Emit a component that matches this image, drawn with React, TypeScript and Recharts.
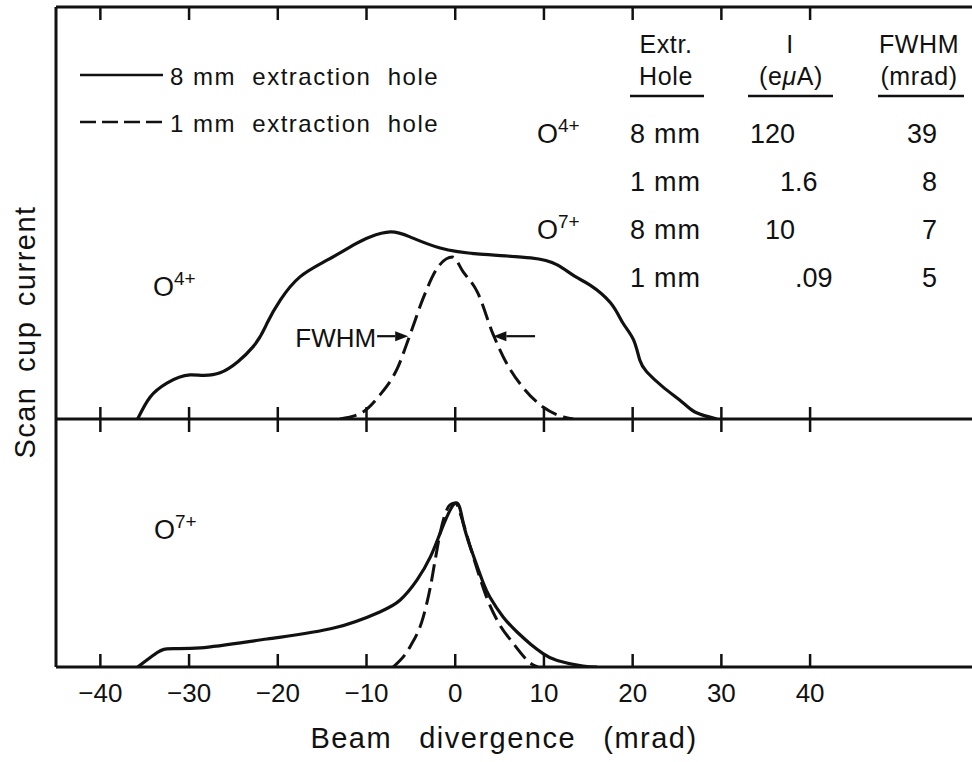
import React from 'react';
import { LineChart, Line, XAxis, YAxis, ReferenceLine } from 'recharts';

const X_DOMAIN: [number, number] = [-45, 58.25];
const X_TICKS = [-40, -30, -20, -10, 0, 10, 20, 30, 40];

// upper panel, O4+ (relative scan cup current)
const O4_8MM: [number, number][] = [
  [-35.8, 0], [-34.4, 5.3], [-32.5, 8.7], [-29.9, 10.7], [-26.5, 11.2],
  [-22.8, 17.5], [-21.2, 23.3], [-19.7, 28.9], [-17.5, 34.5], [-14.4, 38.6], [-11.5, 42.2],
  [-9.6, 44.2], [-7.3, 45.4], [-5.1, 44.2], [-1.7, 41.5], [2.8, 40.0], [8.5, 39.1],
  [11.5, 37.4], [13.5, 34.6], [15.2, 32.5], [17.5, 28.2], [18.9, 23.3], [20.1, 19.2],
  [20.8, 14.3], [21.6, 11.4], [23.4, 7.8], [25.7, 3.9], [27.2, 1.5], [29.5, 0],
];
const O4_1MM: [number, number][] = [
  [-13, 0], [-10.4, 1.7], [-8.5, 5.8], [-6.5, 12.4], [-5.1, 20.4], [-3.6, 29.4],
  [-2, 36.7], [-0.3, 39.3], [0.9, 35.7], [2.5, 30.8], [4.3, 20.4], [5.9, 13.1],
  [7.7, 7.5], [9.9, 2.9], [12.2, 0.5], [13.3, 0],
];

// lower panel, O7+
const O7_8MM: [number, number][] = [
  [-35.8, 0], [-34, 4.8], [-32.5, 7.3], [-28.7, 7.7], [-21.2, 11.3], [-13.7, 15.7],
  [-8.5, 22.2], [-6.2, 27.0], [-4.3, 35.1], [-2.8, 44.4], [-1.7, 54.0],
  [0, 66.1], [0.9, 58.1], [1.7, 48.4], [2.5, 40.3], [3.2, 33.5], [3.9, 28.2],
  [5.4, 20.2], [7.0, 14.0], [8.5, 9.2], [9.9, 5.4], [11.5, 2.6], [14.4, 0.4], [16, 0],
];
const O7_1MM: [number, number][] = [
  [-7, 0], [-5.1, 8.1], [-3.6, 20.2], [-2.8, 32.3], [-2.2, 44.4], [-1.7, 54.0],
  [-0.6, 65.3], [0, 66.1], [0.9, 58.1], [1.7, 48.4], [2.6, 38], [3.6, 27.5],
  [4.7, 19], [6.5, 9.7], [8.8, 0.8], [9.3, 0],
];

// FWHM arrows on the 1 mm O4+ curve
const FWHM_LEVEL = 20.1;
const FWHM_LEFT: [number, number] = [-8.8, -5.3];
const FWHM_RIGHT: [number, number] = [9.0, 4.3];

const LEGEND = ['8 mm  extraction  hole', '1 mm  extraction  hole'];

const TABLE_ION = ['4+', '', '7+', ''];
const TABLE_HOLE = ['8 mm', '1 mm', '8 mm', '1 mm'];
const TABLE_CURRENT = ['120', '1.6', '10', '.09'];
const TABLE_FWHM = ['39', '8', '7', '5'];

const INK = '#111';
const FONT = '"Liberation Sans", Arial, Helvetica, sans-serif';
const DASH = '17 7';

const toPts = (arr: [number, number][]) => arr.map(([x, y]) => ({ x, y }));

const fmtTick = (v: number) => (v < 0 ? `\u2212${-v}` : `${v}`);

const TopTick = (props: any) => (
  <line x1={props.x} x2={props.x} y1={props.y} y2={props.y + 13} stroke={INK} strokeWidth={2.5} />
);

const MidTick = (props: any) => (
  <line x1={props.x} x2={props.x} y1={props.y - 12} y2={props.y + 13} stroke={INK} strokeWidth={2.5} />
);

const BottomTick = (props: any) => (
  <g>
    <line x1={props.x} x2={props.x} y1={props.y} y2={props.y - 13} stroke={INK} strokeWidth={2.5} />
    <text x={props.x} y={props.y + 35} textAnchor="middle" fontSize={26} fontFamily={FONT} fill={INK}>
      {fmtTick(props.payload.value)}
    </text>
  </g>
);

const arrow = (label?: string) => (props: any) => {
  const { x1, y1, x2, y2 } = props;
  const dir = Math.sign(x2 - x1);
  const head = 13;
  return (
    <g>
      <line x1={x1} y1={y1} x2={x2 - dir * head} y2={y2} stroke={INK} strokeWidth={2.2} />
      <polygon
        points={`${x2},${y2} ${x2 - dir * head},${y2 - 5} ${x2 - dir * head},${y2 + 5}`}
        fill={INK}
      />
      {label && (
        <text x={x1 - 1} y={y1 + 11} textAnchor="end" fontSize={26} fontFamily={FONT} fill={INK}>
          {label}
        </text>
      )}
    </g>
  );
};

const axisStroke = { stroke: INK, strokeWidth: 3 };

export default function App() {
  const o48 = toPts(O4_8MM);
  const o41 = toPts(O4_1MM);
  const o78 = toPts(O7_8MM);
  const o71 = toPts(O7_1MM);

  // decimal alignment of the current column
  const curX = 795;

  return (
    <div style={{ position: 'absolute', left: 0, top: 0, width: 972, height: 762, background: '#fff' }}>
      {/* upper panel */}
      <div style={{ position: 'absolute', left: 0, top: 0 }}>
        <LineChart width={972} height={435} margin={{ top: 6, right: 0, left: 55, bottom: 15 }}>
          <XAxis
            xAxisId="edge"
            orientation="top"
            type="number"
            dataKey="x"
            domain={X_DOMAIN}
            ticks={X_TICKS}
            interval={0}
            allowDataOverflow
            height={1}
            tickSize={0}
            tickMargin={0}
            tickLine={false}
            tick={TopTick}
            axisLine={axisStroke}
          />
          <XAxis
            xAxisId="mid"
            orientation="bottom"
            type="number"
            dataKey="x"
            domain={X_DOMAIN}
            ticks={X_TICKS}
            interval={0}
            allowDataOverflow
            height={1}
            tickSize={0}
            tickMargin={0}
            tickLine={false}
            tick={MidTick}
            axisLine={axisStroke}
          />
          <YAxis
            type="number"
            domain={[0, 100]}
            width={1}
            tick={false}
            tickLine={false}
            axisLine={axisStroke}
            allowDataOverflow
          />
          <Line
            xAxisId="mid"
            data={o41}
            dataKey="y"
            type="monotoneX"
            stroke={INK}
            strokeWidth={3}
            strokeDasharray={DASH}
            dot={false}
            isAnimationActive={false}
          />
          <Line
            xAxisId="mid"
            data={o48}
            dataKey="y"
            type="natural"
            stroke={INK}
            strokeWidth={3.2}
            dot={false}
            isAnimationActive={false}
          />
          <ReferenceLine
            xAxisId="mid"
            ifOverflow="visible"
            segment={[{ x: FWHM_LEFT[0], y: FWHM_LEVEL }, { x: FWHM_LEFT[1], y: FWHM_LEVEL }]}
            shape={arrow('FWHM')}
          />
          <ReferenceLine
            xAxisId="mid"
            ifOverflow="visible"
            segment={[{ x: FWHM_RIGHT[0], y: FWHM_LEVEL }, { x: FWHM_RIGHT[1], y: FWHM_LEVEL }]}
            shape={arrow()}
          />
        </LineChart>
      </div>

      {/* lower panel */}
      <div style={{ position: 'absolute', left: 0, top: 400 }}>
        <LineChart width={972} height={362} margin={{ top: 19, right: 0, left: 55, bottom: 0 }}>
          <XAxis
            orientation="bottom"
            type="number"
            dataKey="x"
            domain={X_DOMAIN}
            ticks={X_TICKS}
            interval={0}
            allowDataOverflow
            height={95}
            tickSize={0}
            tickMargin={0}
            tickLine={false}
            tick={BottomTick}
            axisLine={axisStroke}
          />
          <YAxis
            type="number"
            domain={[0, 100]}
            width={1}
            tick={false}
            tickLine={false}
            axisLine={axisStroke}
            allowDataOverflow
          />
          <Line
            data={o71}
            dataKey="y"
            type="monotoneX"
            stroke={INK}
            strokeWidth={3}
            strokeDasharray={DASH}
            dot={false}
            isAnimationActive={false}
          />
          <Line
            data={o78}
            dataKey="y"
            type="natural"
            stroke={INK}
            strokeWidth={3.2}
            dot={false}
            isAnimationActive={false}
          />
        </LineChart>
      </div>

      {/* labels, legend and table */}
      <svg
        width={972}
        height={762}
        style={{ position: 'absolute', left: 0, top: 0, pointerEvents: 'none' }}
        fontFamily={FONT}
        fill={INK}
      >
        <text
          transform="translate(35,332) rotate(-90)"
          textAnchor="middle"
          fontSize={29}
          letterSpacing={1.5}
          wordSpacing={5}
        >
          Scan cup current
        </text>
        <text x={504} y={748} textAnchor="middle" fontSize={29} letterSpacing={1.5} wordSpacing={4} style={{ whiteSpace: 'pre' }}>
          Beam  divergence  (mrad)
        </text>

        {/* legend */}
        <line x1={80} x2={163} y1={75} y2={75} stroke={INK} strokeWidth={2.5} />
        <line x1={80} x2={163} y1={122} y2={122} stroke={INK} strokeWidth={2.5} strokeDasharray="16 6" />
        {LEGEND.map((t, i) => (
          <text key={t} x={170} y={85 + i * 47} fontSize={24} letterSpacing={1.5} style={{ whiteSpace: 'pre' }}>
            {t}
          </text>
        ))}

        {/* panel labels */}
        <text x={153} y={296} fontSize={27}>
          O<tspan dy={-11} fontSize={19}>4+</tspan>
        </text>
        <text x={154} y={539} fontSize={27}>
          O<tspan dy={-11} fontSize={19}>7+</tspan>
        </text>

        {/* table header */}
        <g fontSize={25} textAnchor="middle" letterSpacing={0.6}>
          <text x={666} y={53}>Extr.</text>
          <text x={666} y={85}>Hole</text>
          <text x={790} y={53}>I</text>
          <text x={791} y={85}>
            (e<tspan fontStyle="italic">μ</tspan>A)
          </text>
          <text x={919} y={53}>FWHM</text>
          <text x={919} y={85}>(mrad)</text>
        </g>
        <line x1={630} x2={704} y1={96} y2={96} stroke={INK} strokeWidth={2.5} />
        <line x1={748} x2={833} y1={96} y2={96} stroke={INK} strokeWidth={2.5} />
        <line x1={878} x2={964} y1={96} y2={96} stroke={INK} strokeWidth={2.5} />

        {/* table rows */}
        {TABLE_HOLE.map((hole, i) => {
          const y = 143 + i * 48;
          const cur = TABLE_CURRENT[i];
          const dot = cur.indexOf('.');
          const intPart = dot < 0 ? cur : cur.slice(0, dot);
          const fracPart = dot < 0 ? '' : cur.slice(dot);
          return (
            <g key={i} fontSize={27}>
              {TABLE_ION[i] && (
                <text x={537} y={y}>
                  O<tspan dy={-11} fontSize={19}>{TABLE_ION[i]}</tspan>
                </text>
              )}
              <text x={630} y={y} letterSpacing={0.8} style={{ whiteSpace: 'pre' }}>
                {hole}
              </text>
              {intPart && (
                <text x={curX} y={y} textAnchor="end">
                  {intPart}
                </text>
              )}
              {fracPart && (
                <text x={curX} y={y}>
                  {fracPart}
                </text>
              )}
              <text x={937} y={y} textAnchor="end">
                {TABLE_FWHM[i]}
              </text>
            </g>
          );
        })}
      </svg>
    </div>
  );
}
